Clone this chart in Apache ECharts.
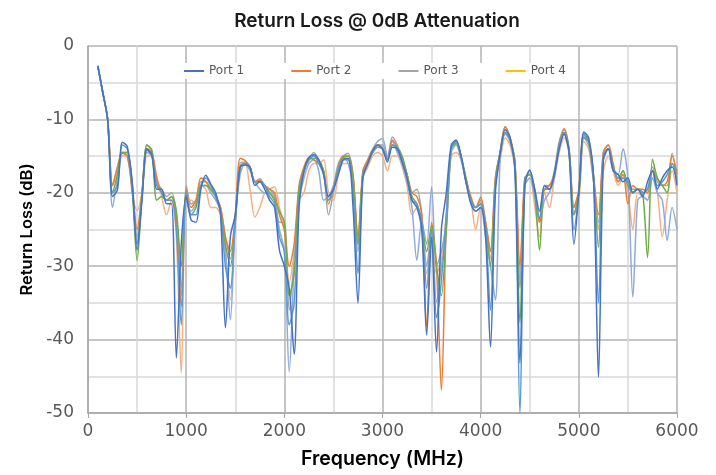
<!DOCTYPE html>
<html>
<head>
<meta charset="utf-8">
<script src="https://cdn.jsdelivr.net/npm/echarts@6/dist/echarts.min.js"></script>
<style>
  html, body { margin: 0; padding: 0; background: #fff; }
  #grafica { width: 716px; height: 475px; }
</style>
</head>
<body>
<div id="grafica"></div>
<script>
// frecuencias cada 50 MHz, de 100 a 6000
var frecuencias = []
for (var f = 100; f <= 6000; f += 50) frecuencias.push(f)

var puerto1 = [
  -2.7,-6.3,-10,-20.5,-19.6,-13.1,-13.7,-18.5,-27.8,-21,
  -14,-14.8,-19.5,-19.5,-21.5,-21.5,-42.5,-27,-20.5,-23.7,
  -24,-19.5,-17.6,-18.8,-20,-23,-38.4,-26,-23,-16.5,
  -16.2,-16.5,-19,-18.5,-19.5,-21,-22,-27.8,-30,-33,
  -42,-22,-17,-15.2,-14.8,-15.5,-17.5,-20.5,-19.5,-17.5,
  -15.5,-15.3,-22,-35,-18,-16,-14.3,-13.5,-14,-15.8,
  -13.8,-14,-15.8,-18,-21,-22,-25,-39.4,-26,-41.7,
  -25,-20,-13.5,-12.8,-15,-18.5,-21.5,-22.5,-22,-26,
  -41,-20,-14.5,-11.4,-12.5,-17,-43.2,-19,-16.9,-19.5,
  -22.5,-19,-19.5,-17.5,-14,-12,-14.5,-27,-20,-11.7,
  -12.5,-18,-45.1,-15.5,-14,-17,-17.5,-18.5,-18,-20,
  -19.5,-20.5,-18.5,-17,-19.5,-18,-17,-16.5,-19
]
var puerto2 = [
  -2.7,-6.3,-10,-19,-16.5,-14.6,-15,-19.5,-25,-20,
  -14,-14.5,-18,-20,-21,-20.5,-24,-35.5,-19.5,-22,
  -21,-18,-18.5,-19.5,-20.5,-22,-26,-28,-23,-15.3,
  -15.6,-16.5,-18.5,-18.3,-19,-19.5,-20,-23,-25,-30,
  -27,-19,-16.5,-15.2,-15.5,-16,-17,-21.5,-19.5,-16.5,
  -15,-15,-17.5,-26,-17,-15.5,-14.2,-13.5,-14,-15.5,
  -12.8,-13.8,-15.5,-17.5,-20,-20.5,-23,-38.3,-24,-30,
  -46.9,-24,-14,-13,-15,-18,-20.5,-22,-20.6,-24,
  -28,-18,-14.3,-11,-12.5,-16,-30,-18,-17.5,-19.5,
  -24,-19.5,-19,-17.5,-13.5,-11.3,-14,-22,-19.5,-12,
  -13,-18,-23,-14.5,-13.5,-16,-18.5,-17.5,-21.5,-19,
  -19.5,-19.5,-20,-17,-18,-19,-18.5,-15,-17.5
]
var puerto3 = [
  -2.7,-6.3,-10,-19,-16.5,-14.5,-14.5,-18.5,-26,-20,
  -13.5,-14.2,-18.5,-19.5,-20.5,-20,-23,-33,-19,-21.5,
  -21,-18.5,-18.5,-19.5,-20.5,-22,-26,-29,-24,-16,
  -15.8,-16.5,-18.5,-18.1,-19,-19.5,-20.5,-24,-24,-36,
  -29,-19.5,-17,-15.5,-14.5,-15.5,-17,-23,-20,-16.5,
  -15,-14.6,-18,-27,-17.5,-16,-14.5,-13.5,-13.5,-15.2,
  -12.4,-13.5,-15.5,-17.5,-20,-19.5,-23,-30,-25,-34.9,
  -30,-25,-14,-13,-15,-18.5,-21,-22,-21,-24,
  -28,-18,-14.3,-11,-12.5,-16,-33,-18,-17.5,-19.5,
  -24,-19,-19,-17,-13,-11.3,-14,-22,-20,-12.3,
  -13,-17.5,-25,-14.5,-13.5,-16.5,-18.5,-17,-19,-19.5,
  -19.5,-20,-19.5,-16.5,-18.5,-19,-19,-14.6,-18
]
var puerto4 = [
  -2.7,-6.3,-10,-20,-17.5,-14.5,-14.5,-19.5,-29.2,-20.5,
  -13.5,-14.2,-21,-20.5,-21,-20.5,-22.5,-30,-20,-23,
  -22,-19,-19,-19.5,-20.5,-22.5,-27,-30,-24,-16.5,
  -16,-16.5,-18.5,-18.5,-19,-20,-21,-22.5,-24,-34,
  -31,-19.5,-17,-15.5,-15.3,-15.5,-17,-21,-19.5,-16.8,
  -15.2,-15,-18,-27,-17.5,-16,-14.5,-13.8,-14,-15.5,
  -13.5,-13.8,-15,-17.5,-20.5,-21.5,-24,-28,-24.5,-30,
  -34,-25,-14,-13.3,-15,-18,-21,-22,-21.5,-24.5,
  -30,-18.5,-14.5,-11.8,-12.8,-16,-37.7,-18,-17.5,-20,
  -27.8,-19.5,-19.5,-17.5,-13.5,-11.8,-14,-23,-20,-12.5,
  -13,-18,-27.4,-15,-14,-16.5,-18,-17,-19,-20,
  -19.5,-20,-28.8,-15.4,-18,-19,-20,-16,-17
]
// curvas extra sin leyenda
var extraAzulClaro = [
  -2.7,-6.3,-10,-22,-18,-14.5,-15,-19.5,-27,-20.5,
  -14.5,-15,-18.5,-20,-21,-21,-24,-34,-21,-22.5,
  -21.5,-19,-19,-20,-21,-22.5,-28,-37.3,-24,-17.5,
  -16,-17,-18.5,-19.5,-20,-20,-21,-25,-28,-44.4,
  -30,-21,-18,-16,-15.5,-17,-21,-20.5,-19,-16,
  -15,-16,-19,-28,-17.5,-15.5,-14,-13,-12.6,-15,
  -13,-14.5,-16,-18.5,-22,-29.2,-24,-27,-19.2,-30,
  -28,-24,-14.5,-13.5,-15.5,-18,-21,-22.5,-22,-26,
  -30,-34.6,-15,-12,-13,-16.5,-32,-19,-18,-20.5,
  -24,-21,-20,-18,-14,-12,-14.5,-23,-20,-12.5,
  -13.5,-18.5,-24,-15.5,-14,-17,-17.5,-14,-18,-34.2,
  -21,-20.5,-21,-18,-20,-21,-26.5,-22,-25
]
var extraSalmon = [
  -2.7,-6.3,-10,-19,-17,-15,-15,-20,-22.4,-20,
  -15,-15,-17.8,-20.5,-23,-21,-26,-44.5,-21,-21,
  -21.5,-19,-19.5,-22,-22,-23,-28,-34.6,-24,-16,
  -16,-19.5,-23.3,-22,-20,-19.5,-19.2,-22,-25,-32.3,
  -28,-21,-20,-17,-16,-16,-15.5,-20,-21,-17.5,
  -16,-16,-18.5,-26,-18,-16.5,-15,-14.5,-15,-17,
  -15,-15,-16.5,-19,-23,-22,-25,-31,-27,-31,
  -29,-23,-15,-14.5,-15.5,-18.5,-21,-25,-22,-24,
  -29,-19,-15.5,-12.5,-13.5,-17,-31,-19,-18,-21.7,
  -26,-20,-22,-18,-14.5,-12.5,-14.5,-22,-21,-13,
  -14,-18.5,-25,-17,-15,-17,-19,-18,-20,-25,
  -20,-20.5,-21,-18,-20,-26,-21,-17,-20
]
var extraAzulMedio = [
  -2.7,-6.3,-10,-20,-19,-13.5,-14,-19,-27,-20.5,
  -14.2,-15,-19,-20,-21,-21,-25,-38,-20,-23,
  -23,-19,-18,-19,-20.5,-22.5,-30,-33,-23.5,-16.5,
  -16,-16.5,-18.5,-18.5,-19,-20.5,-21.5,-26,-28,-38,
  -35,-21,-17,-15.5,-15,-16,-17.5,-21,-19.5,-17,
  -15.5,-15.5,-20,-31,-17.5,-16,-14.5,-13.8,-14,-15.5,
  -13.5,-14,-15.5,-18,-21,-21.5,-24,-33,-25,-37,
  -32,-23,-13.8,-13,-15,-18.5,-21,-22,-21.5,-25,
  -36,-19,-14.5,-11.8,-12.8,-17,-50,-18.5,-17,-19.8,
  -23.5,-19.5,-19.5,-17.5,-13.5,-11.8,-14.3,-25,-20,-12,
  -12.8,-18,-35,-15,-14,-16.5,-18,-18,-18.5,-20,
  -19.5,-20,-19.5,-17,-19,-18.5,-17.5,-16,-18.5
]

var nombres = ['Port 1', 'Port 2', 'Port 3', 'Port 4']
var coloresLeyenda = ['#4472C4', '#ED7D31', '#A5A5A5', '#FFC000']

function pares(valores) {
  return valores.map(function (v, i) { return [frecuencias[i], v] })
}

function serie(nombre, color, valores, z) {
  return {
    name: nombre,
    type: 'line',
    data: pares(valores),
    showSymbol: false,
    smooth: 0.3,
    z: z,
    lineStyle: { width: 1.5, color: color },
    itemStyle: { color: color },
    emphasis: { disabled: true }
  }
}

var seriesdata = [
  serie('Port 3', '#A5A5A5', puerto3, 2),
  serie('extra salmon', '#F4B183', extraSalmon, 2),
  serie('extra azul claro', '#8FAADC', extraAzulClaro, 2),
  serie('Port 2', '#ED7D31', puerto2, 3),
  serie('Port 4', '#70AD47', puerto4, 3),
  serie('extra azul medio', '#5B9BD5', extraAzulMedio, 3),
  serie('Port 1', '#4472C4', puerto1, 4)
]

var myChart = echarts.init(document.getElementById('grafica'))
var option = {
  animation: false,
  backgroundColor: '#fff',
  title: {
    text: 'Return Loss @ 0dB Attenuation',
    left: 372,
    textAlign: 'center',
    top: 7,
    textStyle: { fontFamily: 'Inter', fontSize: 19, fontWeight: 600, color: '#1a1a1a' }
  },
  legend: {
    data: nombres.map(function (n, i) {
      return { name: n, itemStyle: { color: coloresLeyenda[i] }, lineStyle: { color: coloresLeyenda[i] } }
    }),
    left: 180,
    top: 63,
    icon: 'rect',
    itemWidth: 20,
    itemHeight: 2,
    itemGap: 47,
    backgroundColor: '#fff',
    padding: [2, 4],
    textStyle: { fontFamily: 'DejaVu Sans', fontSize: 12, color: '#595959' }
  },
  grid: { left: 88, right: 39, top: 46, bottom: 62, containLabel: false },
  xAxis: {
    type: 'value',
    min: 0, max: 6000, interval: 1000,
    name: 'Frequency (MHz)',
    nameLocation: 'middle',
    nameGap: 36,
    nameTextStyle: { fontFamily: 'Inter', fontSize: 19.5, fontWeight: 600, color: '#000' },
    axisLine: { show: true, onZero: false, lineStyle: { color: '#a6a6a6', width: 1.5 } },
    axisTick: { show: true, length: 5, lineStyle: { color: '#a6a6a6' } },
    axisLabel: {
      fontFamily: 'DejaVu Sans', fontSize: 17, color: '#595959', margin: 10,
      formatter: function (v) { return String(v) }
    },
    splitLine: { show: true, lineStyle: { color: '#b3b3b3', width: 1.5 } },
    minorTick: { show: false, splitNumber: 2 },
    minorSplitLine: { show: true, lineStyle: { color: '#d9d9d9', width: 1.5 } }
  },
  yAxis: {
    type: 'value',
    min: -50, max: 0, interval: 10,
    name: 'Return Loss (dB)',
    nameLocation: 'middle',
    nameGap: 50,
    nameTextStyle: { fontFamily: 'Inter', fontSize: 16.5, fontWeight: 600, color: '#000' },
    axisLine: { show: true, lineStyle: { color: '#a6a6a6', width: 1.5 } },
    axisTick: { show: false },
    axisLabel: { fontFamily: 'DejaVu Sans', fontSize: 17, color: '#595959', margin: 14 },
    splitLine: { show: true, lineStyle: { color: '#b3b3b3', width: 1.5 } },
    minorTick: { show: false, splitNumber: 2 },
    minorSplitLine: { show: true, lineStyle: { color: '#d9d9d9', width: 1.5 } }
  },
  series: seriesdata
}
myChart.setOption(option)
</script>
</body>
</html>
